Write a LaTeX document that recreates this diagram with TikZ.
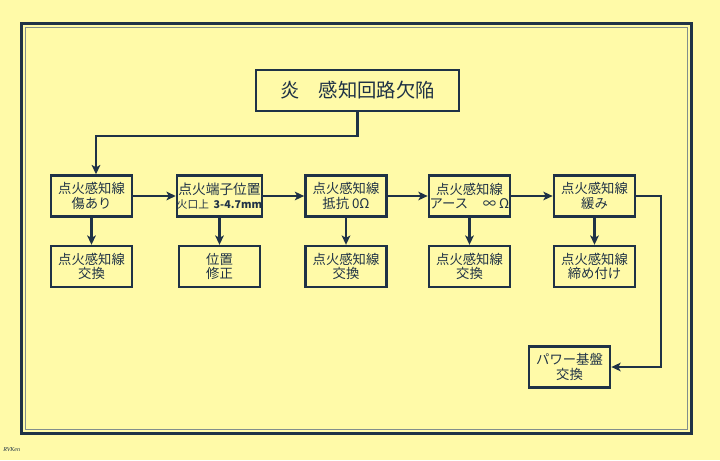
\documentclass[tikz,border=0pt]{standalone}
\usepackage{fontspec}
\setmainfont{Noto Sans CJK JP}
\newfontfamily\sigfont{Liberation Serif}
\usetikzlibrary{arrows.meta}
\definecolor{bgyellow}{RGB}{255,250,168}
\definecolor{navy}{RGB}{31,50,70}
\definecolor{framegray}{RGB}{130,142,140}

\begin{document}
\begin{tikzpicture}[x=0.75pt,y=0.75pt,yscale=-1,xscale=1,
  box/.style={draw=navy,line width=1.8pt,fill=bgyellow,text=navy,minimum width=61pt,minimum height=30.75pt,inner sep=0pt,align=center,font=\fontsize{10}{11}\selectfont},
  titlebox/.style={box,minimum width=152pt,minimum height=31pt,font=\fontsize{14.5}{16}\selectfont},
  conn/.style={draw=navy,line width=1.8pt,-{Stealth[length=7pt,width=6.5pt,inset=1.8pt]}}]
%set diagram size 720 x 460
\fill[bgyellow] (0,0) rectangle (720,460);
\useasboundingbox (0,0) rectangle (720,460);
%Shape: Frame
\draw[navy,line width=2.6pt] (21.7,23.7) rectangle (691.3,433.3);
\draw[framegray,line width=1.1pt] (25.6,27.6) rectangle (687.4,429.4);

%Title
\node[titlebox] (title) at (357.5,90.5) {炎　感知回路欠陥};

%Row of causes
\node[box] (b1) at (91.5,196) {点火感知線\\傷あり};
\node[box] (b2) at (219.5,196) {{\fontsize{10.3}{11}\selectfont 点火端子位置}\\[-1pt]{\fontsize{8}{9}\selectfont 火口上\ \ \textbf{3-4.7mm}}};
\node[box] (b3) at (346,196) {点火感知線\\抵抗 0Ω};
\node[box] (b4) at (469.5,196) {点火感知線\\アース\hspace{11pt}∞ Ω};
\node[box] (b5) at (594.5,196) {点火感知線\\緩み};

%Row of remedies
\node[box] (c1) at (91.5,266.5) {点火感知線\\交換};
\node[box] (c2) at (219.5,266.5) {位置\\修正};
\node[box] (c3) at (346,266.5) {点火感知線\\交換};
\node[box] (c4) at (469.5,266.5) {点火感知線\\交換};
\node[box] (c5) at (594.5,266.5) {点火感知線\\締め付け};

%Power board
\node[box] (pw) at (569.5,367) {パワー基盤\\交換};

%Connectors
\coordinate (split) at (96,136);
\coordinate (turn) at (661,367);
\draw[conn] (title.south) |- (split) -- (split |- b1.north);
\foreach \a/\b in {b1/b2,b2/b3,b3/b4,b4/b5}
  \draw[conn] (\a) -- (\b);
\foreach \i in {1,...,5}
  \draw[conn] (b\i) -- (c\i);
\draw[conn] (b5.east) -| (turn) -- (pw.east);

% Text Node
\node[anchor=west,inner sep=0pt,text=navy,font=\sigfont\itshape\fontsize{4.5}{5}\selectfont] (sig) at (3,450) {RVKen};
\end{tikzpicture}
\end{document}
